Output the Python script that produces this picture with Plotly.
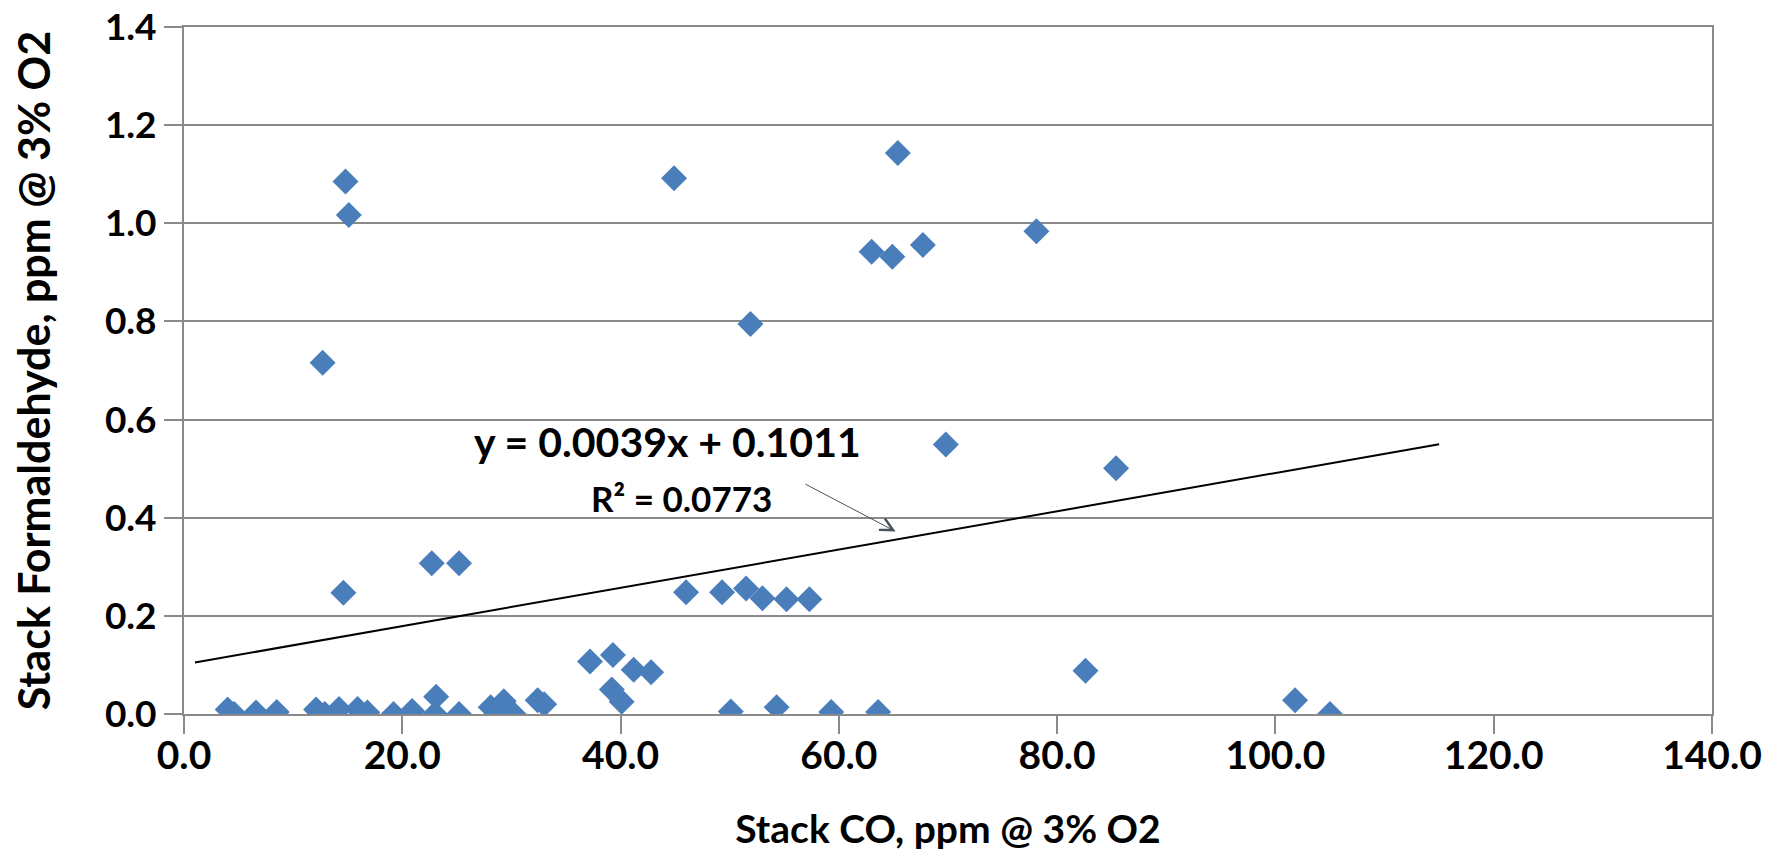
import plotly.graph_objects as go

# Data
co_ppm = [4.0, 4.6, 6.6, 8.5, 12.1, 12.9, 14.2, 15.9, 16.8, 19.2, 20.9, 23.1, 23.0, 25.2,
          28.1, 28.6, 29.3, 30.2, 32.4, 33.0, 37.2, 39.3, 41.2, 42.8, 39.2, 40.1, 50.1,
          54.3, 59.3, 63.6, 82.6, 101.8, 105.0,
          14.6, 22.7, 25.2, 46.0, 49.3, 51.5, 53.0, 55.2, 57.3, 69.8, 85.4,
          12.7, 14.8, 15.1, 44.9, 65.4, 51.9, 63.0, 64.9, 67.7, 78.1]
formaldehyde_ppm = [0.009, 0.0, 0.003, 0.004, 0.009, 0.0, 0.010, 0.010, 0.003, 0.0, 0.006, 0.035, 0.0, 0.0,
                    0.014, 0.0, 0.026, 0.0, 0.028, 0.020, 0.107, 0.120, 0.090, 0.085, 0.050, 0.025, 0.005,
                    0.014, 0.004, 0.004, 0.088, 0.028, 0.0,
                    0.247, 0.307, 0.307, 0.248, 0.248, 0.256, 0.236, 0.234, 0.234, 0.549, 0.501,
                    0.716, 1.085, 1.017, 1.092, 1.143, 0.795, 0.942, 0.932, 0.956, 0.984]

trend_slope = 0.0039
trend_intercept = 0.1011
trend_x = [1.0, 115.0]
trend_y = [trend_slope * v + trend_intercept for v in trend_x]

x_ticks = [0, 20, 40, 60, 80, 100, 120, 140]
y_ticks = [0.0, 0.2, 0.4, 0.6, 0.8, 1.0, 1.2, 1.4]

FONT = "Lato"
GRID = "#8a8a8a"

fig = go.Figure()
fig.add_trace(go.Scatter(
    x=co_ppm, y=formaldehyde_ppm, mode="markers",
    marker=dict(symbol="diamond", size=20, color="#4a7ebb", line=dict(width=0)),
    showlegend=False, hoverinfo="x+y"))
fig.add_trace(go.Scatter(
    x=trend_x, y=trend_y, mode="lines",
    line=dict(color="#000000", width=2), showlegend=False, hoverinfo="skip"))

fig.add_annotation(x=44.3, y=0.556, xref="x", yref="y", showarrow=False,
                   text="y = 0.0039x + 0.1011",
                   font=dict(family=FONT, size=41, color="#000000", weight="bold"))
fig.add_annotation(x=45.6, y=0.44, xref="x", yref="y", showarrow=False,
                   text="R² = 0.0773",
                   font=dict(family=FONT, size=35, color="#000000", weight="bold"))
fig.add_annotation(x=65.2, y=0.372, ax=56.8, ay=0.47, xref="x", yref="y",
                   axref="x", ayref="y", text="", showarrow=True,
                   arrowhead=5, arrowsize=2.5, arrowwidth=1, arrowcolor="#46535a")

fig.update_layout(
    width=1767, height=849, autosize=False,
    margin=dict(l=176, r=63, t=19, b=143, autoexpand=False),
    paper_bgcolor="white", plot_bgcolor="white",
    font=dict(family=FONT, color="#000000"),
)
fig.update_xaxes(
    range=[0, 140], tickvals=x_ticks, tickformat=".1f", automargin=False,
    showgrid=False, zeroline=False,
    showline=True, linecolor=GRID, linewidth=2, mirror=True,
    ticks="outside", ticklen=18, tickwidth=2, tickcolor=GRID,
    ticklabelstandoff=-12, ticklabeloverflow="allow",
    tickfont=dict(family=FONT, size=39, color="#000000", weight="bold"),
    title=dict(text="Stack CO, ppm @ 3% O2", standoff=40,
               font=dict(family=FONT, size=39, color="#000000", weight="bold")),
)
fig.update_yaxes(
    range=[0, 1.4], tickvals=y_ticks, tickformat=".1f", automargin=False,
    showgrid=True, gridcolor=GRID, gridwidth=2, zeroline=False,
    showline=True, linecolor=GRID, linewidth=2, mirror=True,
    ticks="outside", ticklen=18, tickwidth=2, tickcolor=GRID,
    ticklabeloverflow="allow",
    tickfont=dict(family=FONT, size=37, color="#000000", weight="bold"),
    title=dict(text="Stack Formaldehyde, ppm @ 3% O2", standoff=46,
               font=dict(family=FONT, size=43, color="#000000", weight="bold")),
)

fig.write_html("out.html")
